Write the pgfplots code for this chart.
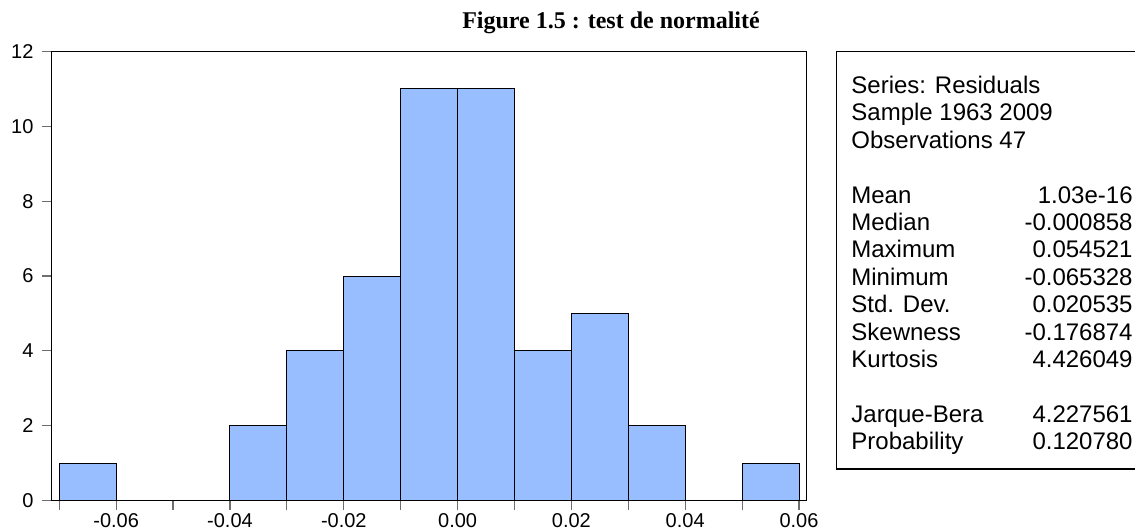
\documentclass[border=0pt]{standalone}
\usepackage{pgfplots}
\pgfplotsset{compat=1.18}
\usepackage{fontspec}
\setmainfont{Liberation Sans}
\newfontfamily\titlefont{Liberation Serif}
\definecolor{barblue}{RGB}{153,190,255}
\definecolor{tickgray}{RGB}{110,110,110}
\pgfplotstableread{
x y
-0.07 1
-0.06 0
-0.05 0
-0.04 2
-0.03 4
-0.02 6
-0.01 11
0.00 11
0.01 4
0.02 5
0.03 2
0.04 0
0.05 1
0.06 0
}\hist
\begin{document}
\begin{tikzpicture}[x=1pt,y=1pt]
\path[use as bounding box] (0,0) rectangle (567.5,265.5);
\begin{axis}[
  at={(25.75pt,15.25pt)}, anchor=south west,
  scale only axis, width=377.5pt, height=224.5pt,
  xmin=-0.07137, xmax=0.06132, ymin=0, ymax=12,
  axis line style={black, line width=0.6pt},
  tick align=outside, xtick pos=lower, ytick pos=left,
  major tick length=4.5pt,
  tick style={tickgray, line width=0.6pt},
  xtick={-0.07,-0.06,-0.05,-0.04,-0.03,-0.02,-0.01,0,0.01,0.02,0.03,0.04,0.05,0.06},
  xticklabels={,-0.06,,-0.04,,-0.02,,0.00,,0.02,,0.04,,0.06},
  ytick={0,2,4,6,8,10,12},
  /pgf/number format/assume math mode=true,
  ticklabel style={font=\fontsize{10}{12}\selectfont, black},
  xticklabel style={yshift=1.5pt},
  yticklabel style={xshift=-1pt},
  scaled x ticks=false,
  clip=false,
]
\addplot[ybar interval, fill=barblue, draw=black, line width=0.5pt] table[x=x,y=y] {\hist};
\end{axis}
% statistics box
\draw[black, line width=0.6pt] (567.5,239.75) -- (418.25,239.75) -- (418.25,31) -- (567.5,31);
\begin{scope}[every node/.style={font=\fontsize{12}{14}\selectfont, inner sep=0pt}]
\node[anchor=base west] at (425.5,{(531-93.6)/2}) {Series: Residuals};
\node[anchor=base west] at (425.5,{(531-121)/2}) {Sample 1963 2009};
\node[anchor=base west] at (425.5,{(531-148.4)/2}) {Observations 47};
\foreach \lab/\val/\py in {Mean/1.03e-16/203.2,Median/-0.000858/230.6,Maximum/0.054521/258,Minimum/-0.065328/285.4,Std. Dev./0.020535/312.8,Skewness/-0.176874/340.2,Kurtosis/4.426049/367.6,Jarque-Bera/4.227561/422.4,Probability/0.120780/449.8}{
  \node[anchor=base west] at (425.5,{(531-\py)/2}) {\lab};
  \node[anchor=base east] at (566.5,{(531-\py)/2}) {\val};
}
\end{scope}
\node[font=\titlefont\bfseries\fontsize{12}{14}\selectfont, anchor=center] at (305.5,254) {Figure 1.5 : test de normalité};
\end{tikzpicture}
\end{document}
